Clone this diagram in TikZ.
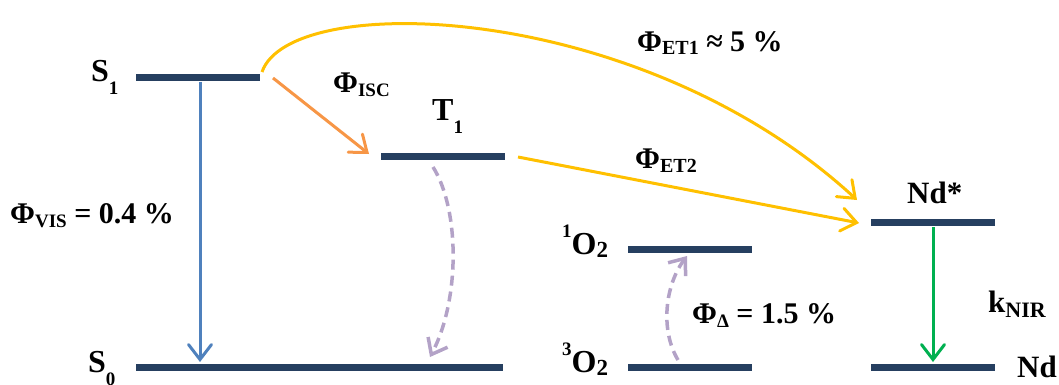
\documentclass[tikz,border=0pt]{standalone}
\usepackage{fontspec}
\setmainfont{Liberation Serif}
\usetikzlibrary{arrows.meta}
\definecolor{lvlc}{RGB}{38,63,96}
\definecolor{visc}{RGB}{79,129,189}
\definecolor{iscc}{RGB}{247,150,70}
\definecolor{etc}{RGB}{255,192,0}
\definecolor{dsc}{RGB}{179,162,199}
\definecolor{nirc}{RGB}{0,176,80}
\newcommand{\dn}[3]{\raisebox{-#1}{\fontsize{#2}{#2}\selectfont #3}}
\newcommand{\up}[3]{\raisebox{#1}{\fontsize{#2}{#2}\selectfont #3}}
\begin{document}
\begin{tikzpicture}[x=1pt,y=-1pt,
  lvl/.style={line width=7pt,draw=lvlc},
  tipv/.style={-{Straight Barb[length=15pt,width=23pt,line cap=round]}},
  conn/.style={line width=3pt,tipv},
  dsh/.style={line width=3.5pt,draw=dsc,dash pattern=on 10pt off 6pt,-{Straight Barb[length=14pt,width=22pt]}},
  lab/.style={inner sep=0pt,anchor=base west,font=\bfseries\fontsize{30}{30}\selectfont},
  big/.style={inner sep=0pt,anchor=base west,font=\bfseries\fontsize{32}{32}\selectfont}]
\useasboundingbox (0,0) rectangle (1059,385);
% levels
\coordinate (s1a) at (136,77.5); \coordinate (s1b) at (260,77.5);
\coordinate (s0a) at (136,367.5); \coordinate (s0b) at (503,367.5);
\coordinate (t1a) at (381,156.5); \coordinate (t1b) at (505,156.5);
\coordinate (o1a) at (628,249.5); \coordinate (o1b) at (752,249.5);
\coordinate (o3a) at (628,367.5); \coordinate (o3b) at (752,367.5);
\coordinate (nda) at (871,222.5); \coordinate (ndb) at (995,222.5);
\coordinate (n0a) at (871,367.5); \coordinate (n0b) at (995,367.5);
\draw[lvl] (s1a) -- (s1b);
\draw[lvl] (s0a) -- (s0b);
\draw[lvl] (t1a) -- (t1b);
\draw[lvl] (o1a) -- (o1b);
\draw[lvl] (o3a) -- (o3b);
\draw[lvl] (nda) -- (ndb);
\draw[lvl] (n0a) -- (n0b);
% arrow end points
\coordinate (visS) at (200,82); \coordinate (visE) at (200,362);
\coordinate (iscS) at (273,78); \coordinate (iscE) at (369,154);
\coordinate (et1S) at (262,72); \coordinate (et1E) at (857,200);
\coordinate (et2S) at (518,157); \coordinate (et2E) at (859,223);
\coordinate (dsS) at (433,167); \coordinate (dsE) at (430,357);
\coordinate (doS) at (678,360); \coordinate (doE) at (687,256);
\coordinate (nirS) at (933,227); \coordinate (nirE) at (933,362);
\draw[conn,draw=visc] (visS) -- (visE);
\draw[conn,draw=iscc] (iscS) -- (iscE);
\draw[conn,draw=etc] (et1S) .. controls (290,-10) and (640,0) .. (et1E);
\draw[conn,draw=etc] (et2S) -- (et2E);
\draw[dsh] (dsS) .. controls (460,210) and (460,300) .. (dsE);
\draw[dsh] (doS) .. controls (660,330) and (665,285) .. (doE);
\draw[conn,draw=nirc] (nirS) -- (nirE);
% labels
\node[big] (lS1) at (91,82) {S\dn{13pt}{19}{1}};
\node[big] (lS0) at (88,372) {S\dn{13pt}{19}{0}};
\node[big] (lT1) at (432,121) {T\dn{13pt}{19}{1}};
\node[big] (lO1) at (562,254) {\up{17pt}{19}{1}O\dn{3pt}{23}{2}};
\node[big] (lO3) at (562,372) {\up{17pt}{19}{3}O\dn{3pt}{23}{2}};
\node[lab,font=\bfseries\fontsize{31}{31}\selectfont] (lNds) at (907,203) {Nd*};
\node[lab,font=\bfseries\fontsize{31}{31}\selectfont] (lNd) at (1017,377) {Nd};
\node[lab] (lvis) at (10,223) {Φ\dn{4pt}{19}{VIS} = 0.4 \%};
\node[lab] (lisc) at (333,93) {Φ\dn{4pt}{19}{ISC}};
\node[lab] (let1) at (637,52) {Φ\dn{3pt}{20}{ET1} ≈ 5 \%};
\node[lab] (let2) at (635,168) {Φ\dn{4pt}{20}{ET2}};
\node[lab] (ldel) at (692,323) {Φ\dn{4pt}{19}{Δ} = 1.5 \%};
\node[lab,font=\bfseries\fontsize{31}{31}\selectfont] (lnir) at (988,312) {k\dn{5pt}{22}{NIR}};
\end{tikzpicture}
\end{document}
